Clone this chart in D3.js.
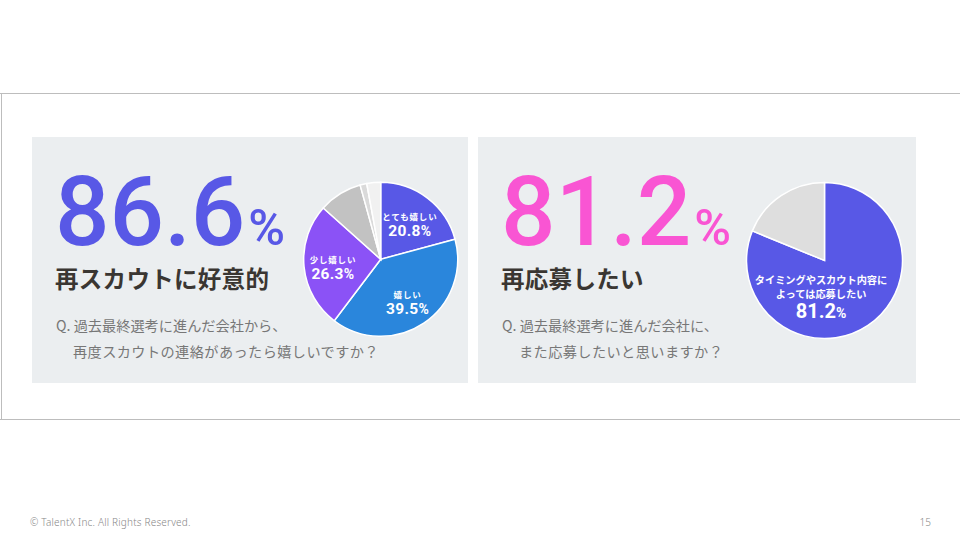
<!DOCTYPE html>
<html>
<head>
<meta charset="utf-8">
<script src="https://cdn.jsdelivr.net/npm/d3@7/dist/d3.min.js"></script>
<style>
  html, body { margin: 0; padding: 0; background: #fff; }
  svg { display: block; }
</style>
</head>
<body>
<svg id="chart" width="960" height="540"></svg>
<script>
// ---- Data ----
const leftCategories = ["とても嬉しい", "嬉しい", "少し嬉しい", "あまり嬉しくない", "嬉しくない", "わからない"];
const leftValues = [20.8, 39.5, 26.3, 9.1, 1.4, 2.9];
const leftShowLabel = [true, true, true, false, false, false];
const leftHeadline = "86.6";
const leftTitle = "再スカウトに好意的";
const leftQuestion = ["Q. 過去最終選考に進んだ会社から、", "再度スカウトの連絡があったら嬉しいですか？"];

const rightCategories = ["タイミングやスカウト内容によっては応募したい", "応募したくない"];
const rightValues = [81.2, 18.8];
const rightLabelLines = ["タイミングやスカウト内容に", "よっては応募したい"];
const rightHeadline = "81.2";
const rightTitle = "再応募したい";
const rightQuestion = ["Q. 過去最終選考に進んだ会社に、", "また応募したいと思いますか？"];

const footerText = "© TalentX Inc. All Rights Reserved.";
const pageNumber = "15";

// ---- Styles ----
const leftColors = ["#5858e6", "#2a86dc", "#8b52f6", "#c2c2c2", "#dadada", "#f1f1f1"];
const rightColors = ["#5858e6", "#dedede"];
const jp = "'Noto Sans CJK JP', 'Noto Sans', sans-serif";
const num = "Roboto, 'Liberation Sans', Arial, sans-serif";

const svg = d3.select("#chart");

// outer frame
const frame = svg.append("g").attr("stroke", "#bdbdbd").attr("stroke-width", 1);
frame.append("line").attr("x1", 0).attr("x2", 960).attr("y1", 93.5).attr("y2", 93.5);
frame.append("line").attr("x1", 0).attr("x2", 960).attr("y1", 419.5).attr("y2", 419.5);
frame.append("line").attr("x1", 1.5).attr("x2", 1.5).attr("y1", 93.5).attr("y2", 419.5);

// panels
const panels = [
  { x: 32, w: 436, color: "#5858e6", headline: leftHeadline, title: leftTitle, q: leftQuestion },
  { x: 478, w: 438, color: "#f955d3", headline: rightHeadline, title: rightTitle, q: rightQuestion }
];
panels.forEach(p => {
  const g = svg.append("g");
  g.append("rect").attr("x", p.x).attr("y", 137).attr("width", p.w).attr("height", 246).attr("fill", "#ebeef0");
  const t = g.append("text").attr("x", p.x + 23).attr("y", 245)
    .attr("font-family", num).attr("font-weight", 500).attr("fill", p.color)
    .attr("font-size", 96);
  t.append("tspan").text(p.headline);
  t.append("tspan").attr("font-size", 50).attr("dx", 3).text("%");
  g.append("text").attr("x", p.x + 23).attr("y", 288)
    .attr("font-family", jp).attr("font-weight", 700).attr("font-size", 23.5)
    .attr("fill", "#3a3632").attr("letter-spacing", 0.3).text(p.title);
  g.append("text").attr("x", p.x + 24).attr("y", 331)
    .attr("font-family", jp).attr("font-weight", 400).attr("font-size", 14.2)
    .attr("fill", "#777").text(p.q[0]);
  g.append("text").attr("x", p.x + 41).attr("y", 357)
    .attr("font-family", jp).attr("font-weight", 400).attr("font-size", 14.2)
    .attr("fill", "#777").attr("letter-spacing", 0.4).text(p.q[1]);
});

const pie = d3.pie().sort(null).value(d => d);

// left pie
{
  const cx = 380.7, cy = 259.3, R = 77;
  const arc = d3.arc().innerRadius(0).outerRadius(R);
  const labelArc = d3.arc().innerRadius(48).outerRadius(48);
  const g = svg.append("g").attr("transform", `translate(${cx},${cy})`);
  const arcs = pie(leftValues);
  g.selectAll("path").data(arcs).join("path")
    .attr("d", arc)
    .attr("fill", (d, i) => leftColors[i])
    .attr("stroke", "#fff").attr("stroke-width", 1.5);
  const lab = g.selectAll("g.lab").data(arcs.filter((d, i) => leftShowLabel[i])).join("g")
    .attr("class", "lab")
    .attr("transform", d => { const c = labelArc.centroid(d); return `translate(${c[0]},${c[1] + 2})`; });
  lab.append("text").attr("text-anchor", "middle").attr("y", -3)
    .attr("font-family", jp).attr("font-weight", 700).attr("font-size", 8.5)
    .attr("letter-spacing", 0.8).attr("fill", "#fff")
    .text(d => leftCategories[d.index]);
  const nt = lab.append("text").attr("text-anchor", "middle").attr("y", 13)
    .attr("font-family", num).attr("font-weight", 700).attr("font-size", 15.5)
    .attr("letter-spacing", 0.3).attr("fill", "#fff");
  nt.append("tspan").text(d => d.data.toFixed(1));
  nt.append("tspan").attr("font-size", 14).text("%");
}

// right pie
{
  const cx = 824.5, cy = 260.5, R = 78;
  const arc = d3.arc().innerRadius(0).outerRadius(R);
  const g = svg.append("g").attr("transform", `translate(${cx},${cy})`);
  const arcs = pie(rightValues);
  g.selectAll("path").data(arcs).join("path")
    .attr("d", arc)
    .attr("fill", (d, i) => rightColors[i])
    .attr("stroke", "#fff").attr("stroke-width", 1.5);
  const lg = g.append("g").attr("transform", "translate(-3.5,0)");
  rightLabelLines.forEach((line, i) => {
    lg.append("text").attr("text-anchor", "middle").attr("y", 23.5 + i * 13.5)
      .attr("font-family", jp).attr("font-weight", 700).attr("font-size", 10.2)
      .attr("fill", "#fff").text(line);
  });
  const nt = lg.append("text").attr("text-anchor", "middle").attr("y", 57)
    .attr("font-family", num).attr("font-weight", 700).attr("font-size", 20)
    .attr("fill", "#fff");
  nt.append("tspan").text(rightValues[0].toFixed(1));
  nt.append("tspan").attr("font-size", 14).text("%");
}

// footer
svg.append("text").attr("x", 30).attr("y", 526)
  .attr("font-family", "'Noto Sans', sans-serif").attr("font-weight", 300).attr("font-size", 10)
  .attr("letter-spacing", 0.2).attr("fill", "#888").text(footerText);
svg.append("text").attr("x", 931).attr("y", 526).attr("text-anchor", "end")
  .attr("font-family", "'Noto Sans', sans-serif").attr("font-weight", 300).attr("font-size", 10)
  .attr("fill", "#888").text(pageNumber);
</script>
</body>
</html>
